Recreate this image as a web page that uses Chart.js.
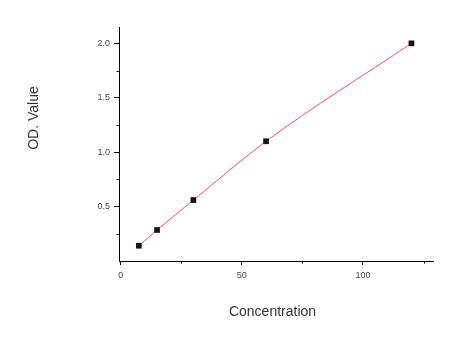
<!DOCTYPE html>
<html>
<head>
<meta charset="utf-8">
<script src="https://cdn.jsdelivr.net/npm/chart.js@4"></script>
<style>
html,body{margin:0;padding:0;background:#fff;}
canvas{display:block;}
</style>
</head>
<body>
<canvas id="c" width="474" height="345"></canvas>
<script>
const concentration = [7.5, 15, 30, 60, 120];
const odValue = [0.14, 0.285, 0.56, 1.10, 2.0];
const xMajorTicks = [0, 50, 100];
const xMinorTicks = [25, 75, 125];
const yMajorTicks = [0.5, 1.0, 1.5, 2.0];
const yMinorTicks = [0.25, 0.75, 1.25, 1.75];
const xTitle = 'Concentration';
const yTitle = 'OD. Value';

const FONT = "'Liberation Sans', Arial, sans-serif";

const minorTickPlugin = {
  id: 'minorTicks',
  afterDraw(chart) {
    const ctx = chart.ctx;
    const xs = chart.scales.x, ys = chart.scales.y;
    ctx.save();
    ctx.strokeStyle = '#000';
    ctx.lineWidth = 1;
    ctx.beginPath();
    xMinorTicks.forEach(v => {
      const px = Math.round(xs.getPixelForValue(v)) + 0.5;
      ctx.moveTo(px, xs.top);
      ctx.lineTo(px, xs.top + 2.5);
    });
    yMinorTicks.forEach(v => {
      const py = Math.round(ys.getPixelForValue(v)) + 0.5;
      ctx.moveTo(ys.right, py);
      ctx.lineTo(ys.right - 2.5, py);
    });
    ctx.stroke();
    // axis titles
    ctx.fillStyle = '#333';
    ctx.font = '14px ' + FONT;
    ctx.textAlign = 'center';
    ctx.textBaseline = 'middle';
    ctx.fillText(xTitle, 272.5, 312);
    ctx.translate(34, 118);
    ctx.rotate(-Math.PI / 2);
    ctx.fillText(yTitle, 0, 0);
    ctx.restore();
  }
};

new Chart(document.getElementById('c'), {
  type: 'scatter',
  data: {
    datasets: [{
      data: concentration.map((x, i) => ({x: x, y: odValue[i]})),
      showLine: true,
      borderColor: '#f0506e',
      borderWidth: 1,
      cubicInterpolationMode: 'monotone',
      pointStyle: 'rect',
      pointRadius: 4,
      pointBackgroundColor: '#111',
      pointBorderColor: '#111',
      pointBorderWidth: 0
    }]
  },
  options: {
    responsive: false,
    animation: false,
    devicePixelRatio: 1,
    layout: {padding: {left: 0, top: 27, right: 41, bottom: 0}},
    plugins: {legend: {display: false}, tooltip: {enabled: false}},
    scales: {
      x: {
        type: 'linear',
        min: -0.7,
        max: 128.9,
        afterBuildTicks: s => { s.ticks = xMajorTicks.map(v => ({value: v})); },
        afterFit: s => { s.height = 84; },
        border: {display: true, color: '#000', width: 1},
        grid: {display: true, drawOnChartArea: false, drawTicks: true, tickLength: 4, color: '#000'},
        ticks: {font: {family: FONT, size: 9}, color: '#444', padding: 5, maxRotation: 0, autoSkip: false}
      },
      y: {
        type: 'linear',
        min: 0,
        max: 2.15,
        afterBuildTicks: s => { s.ticks = yMajorTicks.map(v => ({value: v})); },
        afterFit: s => { s.width = 119; },
        border: {display: true, color: '#000', width: 1},
        grid: {display: true, drawOnChartArea: false, drawTicks: true, tickLength: 5, color: '#000'},
        ticks: {font: {family: FONT, size: 9}, color: '#444', padding: 4, autoSkip: false,
          callback: v => Number(v).toFixed(1)}
      }
    }
  },
  plugins: [minorTickPlugin]
});
</script>
</body>
</html>
